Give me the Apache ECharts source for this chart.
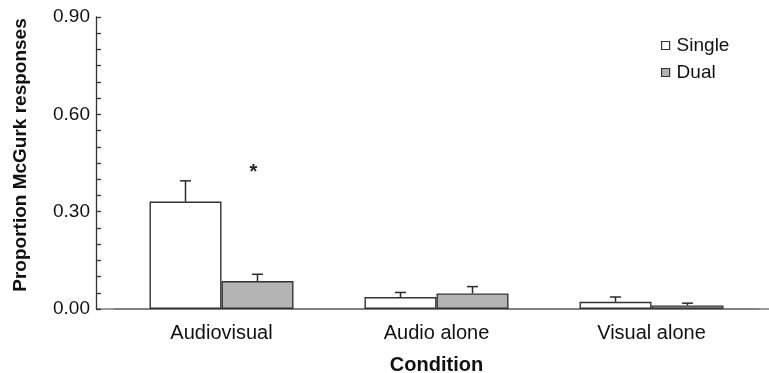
<!DOCTYPE html>
<html>
<head>
<meta charset="utf-8">
<script src="https://cdn.jsdelivr.net/npm/echarts@6/dist/echarts.min.js"></script>
<style>html,body{margin:0;padding:0;background:#fff;}#c{width:769px;height:373px;}</style>
</head>
<body>
<div id="c"></div>
<script>
var categories = ['Audiovisual', 'Audio alone', 'Visual alone'];
var seriesNames = ['Single', 'Dual'];
var singleMean = [0.331, 0.037, 0.022];
var singleErr = [0.064, 0.014, 0.015];
var dualMean = [0.086, 0.048, 0.011];
var dualErr = [0.021, 0.021, 0.007];
var yTicks = [0, 0.3, 0.6, 0.9];
var annotation = { category: 'Audiovisual', value: 0.421, text: '*' };

var FONT = '"Liberation Sans", Arial, sans-serif';
var BAR_W = 72;
var chart = echarts.init(document.getElementById('c'), null, { renderer: 'canvas' });

function errSeries(name, means, errs, sign) {
  return {
    type: 'custom',
    name: name + ' err',
    silent: true,
    z: 1,
    data: means.map(function (m, i) { return [i, m, errs[i]]; }),
    renderItem: function (params, api) {
      var i = api.value(0), m = api.value(1), e = api.value(2);
      var p0 = api.coord([i, m]);
      var p1 = api.coord([i, m + e]);
      var x = p0[0] + sign * BAR_W / 2;
      var style = { stroke: '#2a2a2a', lineWidth: 1.5 };
      return {
        type: 'group',
        children: [
          { type: 'line', shape: { x1: x, y1: p0[1], x2: x, y2: p1[1] }, style: style },
          { type: 'line', shape: { x1: x - 5.5, y1: p1[1], x2: x + 5.5, y2: p1[1] }, style: style }
        ]
      };
    }
  };
}

var option = {
  animation: false,
  backgroundColor: '#fff',
  textStyle: { fontFamily: FONT },
  grid: { left: 114, right: 10, top: 17, bottom: 64, containLabel: false, outerBoundsMode: 'none' },
  legend: {
    orient: 'vertical',
    left: 656,
    top: 31,
    itemWidth: 8,
    itemHeight: 8,
    itemGap: 8,
    icon: 'rect',
    textStyle: { fontFamily: FONT, fontSize: 19, color: '#111', padding: [0, 0, 0, 2] },
    data: [
      { name: 'Single', itemStyle: { color: '#fff', borderColor: '#333', borderWidth: 1.2 } },
      { name: 'Dual', itemStyle: { color: '#b4b4b4', borderColor: '#333', borderWidth: 1.2 } }
    ]
  },
  xAxis: {
    type: 'category',
    data: categories,
    name: 'Condition',
    nameLocation: 'middle',
    nameGap: 46,
    nameTextStyle: { fontFamily: FONT, fontSize: 20, fontWeight: 'bold', color: '#111' },
    axisLine: { show: true, lineStyle: { color: '#7a7a7a', width: 1.5 } },
    axisTick: { show: false },
    axisLabel: { fontFamily: FONT, fontSize: 20, color: '#111', margin: 14 },
    splitLine: { show: false }
  },
  yAxis: {
    type: 'value',
    min: 0,
    max: 0.9,
    interval: 0.3,
    offset: 18,
    name: 'Proportion McGurk responses',
    nameLocation: 'middle',
    nameGap: 66,
    nameTextStyle: { fontFamily: FONT, fontSize: 19, fontWeight: 'bold', color: '#111', padding: [0, 0, 0, 16] },
    axisLine: { show: true, lineStyle: { color: '#333', width: 1.3 } },
    axisTick: { show: true, inside: true, length: 5, lineStyle: { color: '#333', width: 1.3 } },
    minorTick: { show: true, splitNumber: 6, length: 5, lineStyle: { color: '#333', width: 1.3 } },
    axisLabel: {
      fontFamily: FONT, fontSize: 19, color: '#111', margin: 6,
      formatter: function (v) { return v.toFixed(2); }
    },
    splitLine: { show: false }
  },
  graphic: [
    {
      type: 'line',
      shape: { x1: 96, y1: 309, x2: 769, y2: 309 },
      style: { stroke: '#7a7a7a', lineWidth: 1.5 },
      z: 0
    }
  ],
  series: [
    {
      name: seriesNames[0],
      type: 'bar',
      barWidth: BAR_W,
      barGap: '0%',
      data: singleMean,
      itemStyle: { color: '#fff', borderColor: '#333', borderWidth: 1.4 },
      z: 2
    },
    {
      name: seriesNames[1],
      type: 'bar',
      barWidth: BAR_W,
      barGap: '0%',
      data: dualMean,
      itemStyle: { color: '#b4b4b4', borderColor: '#333', borderWidth: 1.4 },
      z: 2,
      markPoint: {
        symbol: 'circle',
        symbolSize: 0,
        silent: true,
        label: { show: true, formatter: annotation.text, fontFamily: FONT, fontSize: 20, fontWeight: 'bold', color: '#222', offset: [-4, 0] },
        data: [{ coord: [annotation.category, annotation.value] }]
      }
    },
    errSeries('Single', singleMean, singleErr, -1),
    errSeries('Dual', dualMean, dualErr, 1)
  ]
};
chart.setOption(option);
</script>
</body>
</html>
